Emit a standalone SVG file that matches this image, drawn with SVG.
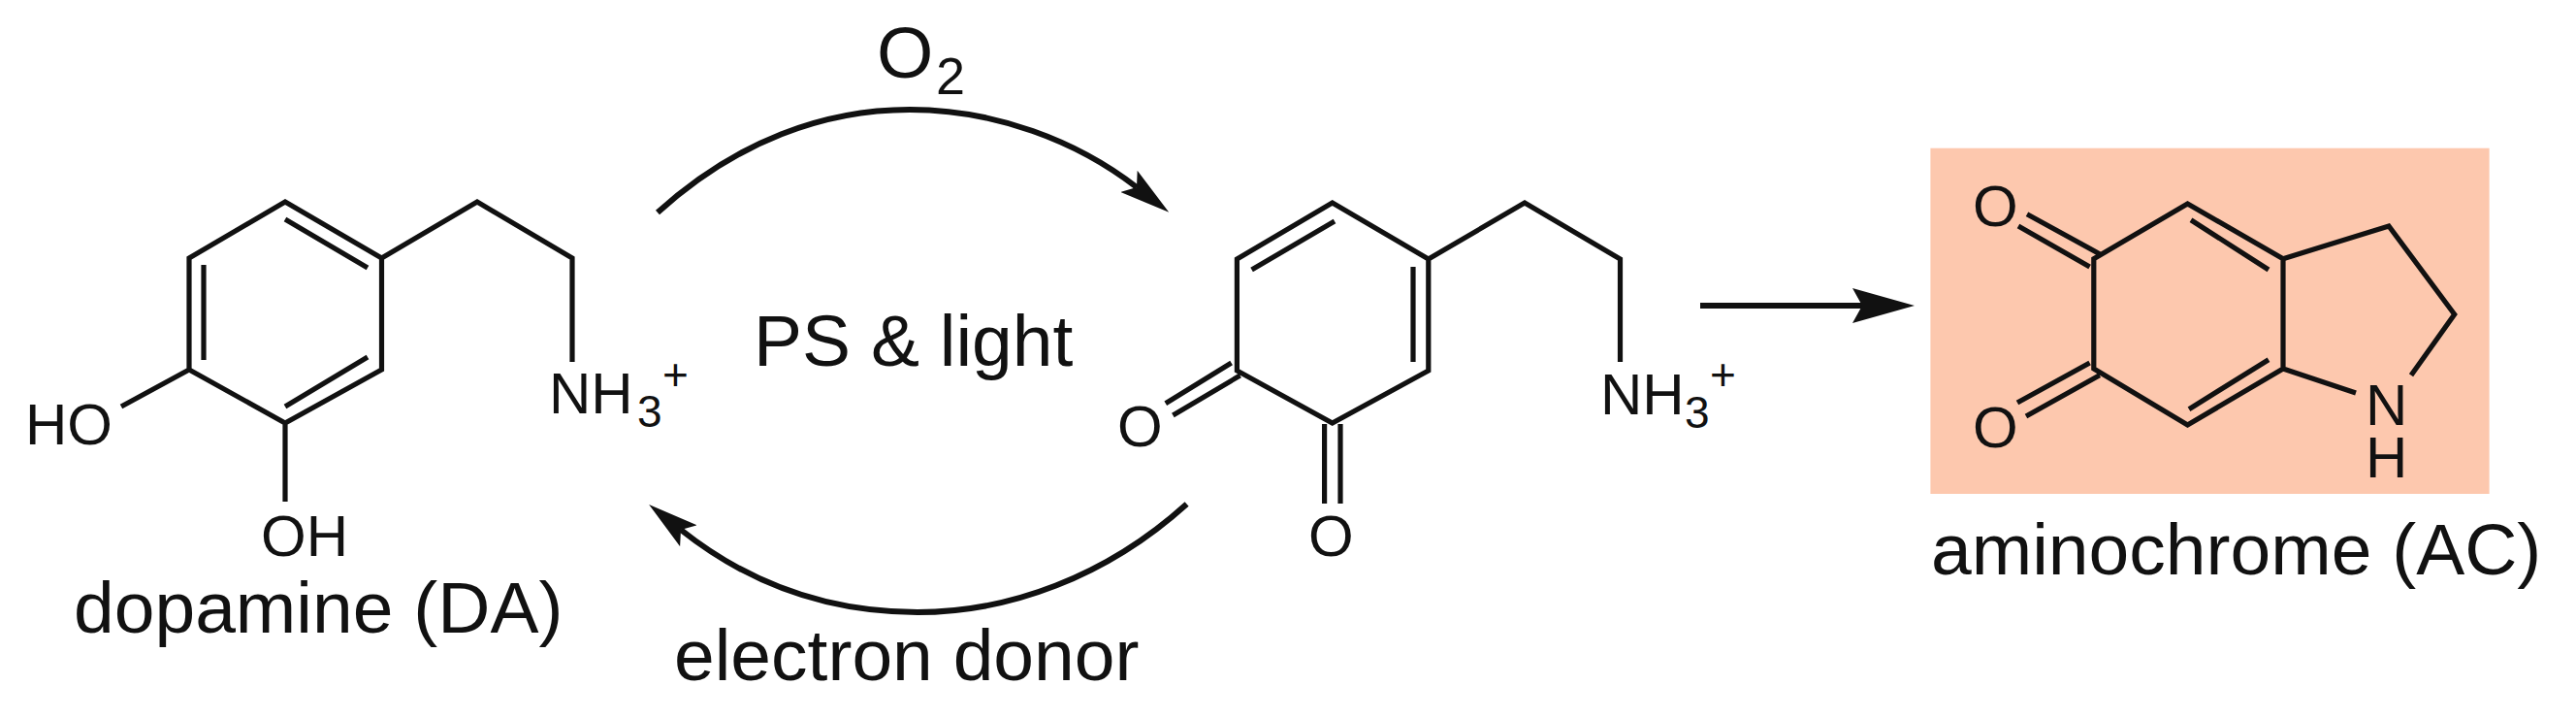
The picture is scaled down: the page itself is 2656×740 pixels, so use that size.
<svg xmlns="http://www.w3.org/2000/svg" width="2656" height="740" viewBox="0 0 2656 740">
<style>
text{font-family:"Liberation Sans",Arial,sans-serif;fill:#111}
.a{font-size:60px}.l{font-size:75px}.s{font-size:46px}.s2{font-size:54px}
.b{fill:none;stroke:#111;stroke-width:5.2;stroke-linejoin:miter}
.c{fill:none;stroke:#111;stroke-width:6}
</style>
<defs>
<marker id="headC" markerUnits="userSpaceOnUse" viewBox="0 0 52 28" markerWidth="52" markerHeight="28" refX="10" refY="14" orient="auto"><path d="M0,0L52,14L0,28L10,14Z" fill="#111"/></marker>
<marker id="headS" markerUnits="userSpaceOnUse" viewBox="0 0 64 36" markerWidth="64" markerHeight="36" refX="10" refY="18" orient="auto"><path d="M0,0L64,18L0,36L10,18Z" fill="#111"/></marker>
</defs>
<rect width="2656" height="740" fill="#fff"/>
<g id="connectors">
<path class="c" d="M678,219C760,145 850,113 938,113S1110,145 1172,193" marker-end="url(#headC)"/>
<path class="c" d="M1223.6,519.5C1140,595 1040,631 946,631S770,600 702,546" marker-end="url(#headC)"/>
<path class="c" d="M1753,315L1920,315" marker-end="url(#headS)"/>
</g>
<g id="dopamine">
<path class="b" d="M294,208L393.5,266V381L294,436L195,381V266ZM294,226L379,276M210,273V371M294,419L379,368M393.5,266L492,208L590,266V373M195,381L125,419M294,436V517"/>
<text class="a" x="26" y="458">HO</text>
<text class="a" x="269" y="573">OH</text>
<text class="a" x="566" y="426">NH<tspan class="s" x="657" y="440">3</tspan><tspan class="s" x="683" y="402">+</tspan></text>
<text class="l" x="76" y="652">dopamine (DA)</text>
</g>
<g id="quinone">
<path class="b" d="M1373.7,209L1472.8,267V382L1373.7,436L1275.4,382V267ZM1290.6,278L1376,228M1457,275V373M1472.8,267L1572,209L1670.5,267V373M1269.6,374L1201.8,415.7M1278.6,387L1209.4,428M1365.6,437V519M1382,437V519"/>
<text class="a" x="1152" y="460">O</text>
<text class="a" x="1349" y="573">O</text>
<text class="a" x="1650" y="427">NH<tspan class="s" x="1737" y="441">3</tspan><tspan class="s" x="1763" y="402">+</tspan></text>
</g>
<g id="aminochrome">
<rect x="1990.4" y="152.7" width="576.2" height="356.3" fill="#fdc8ae"/>
<path class="b" d="M2158.8,266.7L2255.5,210L2354,266.7V380L2255.5,438L2158.8,380ZM2259,226.7L2339,278M2257,421.7L2339,370.7M2354,266.7L2463,233L2530.7,324L2486,386.7M2354,380L2429,405M2090,220.7L2164.8,261.7M2081,233L2154.6,275M2080,415L2154.6,374M2089,429L2164.8,386.7"/>
<text class="a" x="2034" y="233">O</text>
<text class="a" x="2034" y="461">O</text>
<text class="a" x="2439" y="438">N</text>
<text class="a" x="2439" y="491.6">H</text>
<text class="l" x="1991" y="591.7">aminochrome (AC)</text>
</g>
<g id="labels">
<text class="l" x="904" y="80">O<tspan class="s2" x="965" y="97">2</tspan></text>
<text class="l" x="777" y="377">PS &amp; light</text>
<text class="l" x="695" y="701">electron donor</text>
</g>
</svg>
